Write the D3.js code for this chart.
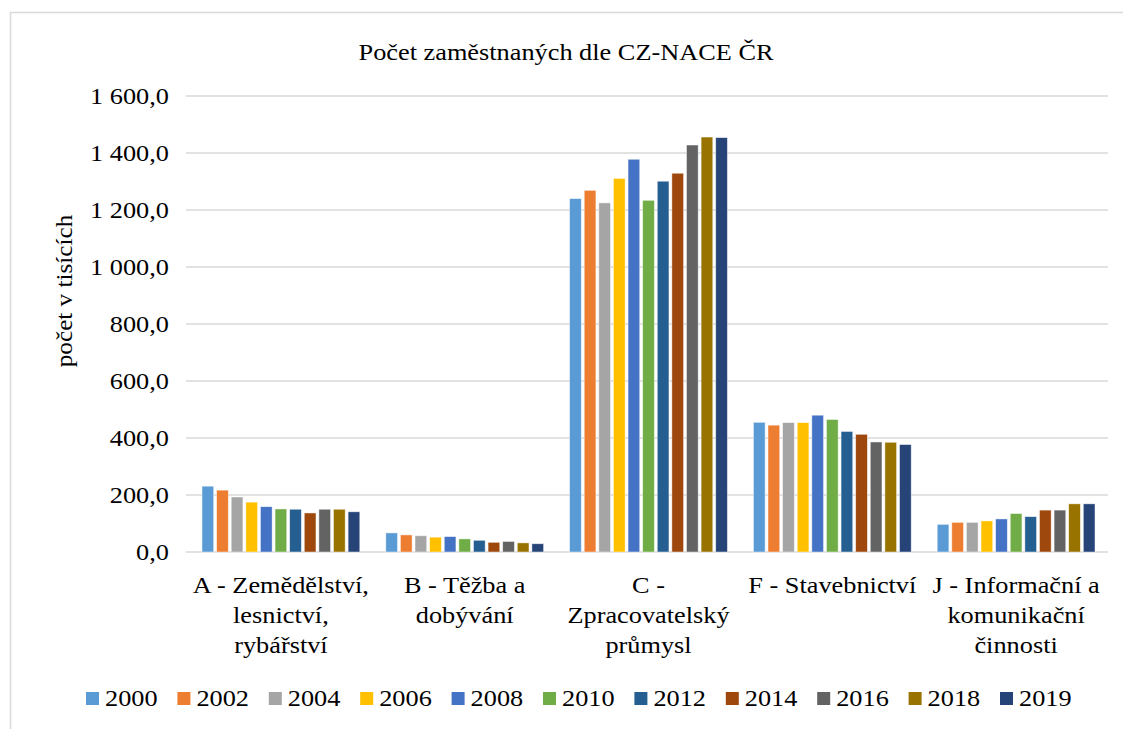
<!DOCTYPE html>
<html>
<head>
<meta charset="utf-8">
<script src="https://cdn.jsdelivr.net/npm/d3@7"></script>
<style>
  body { margin: 0; background: #fff; }
</style>
</head>
<body>
<div id="chart"></div>
<script>
/**
 * DATA (thousands of employed persons)
 * */
const categories = [
  ["A - Zemědělství,", "lesnictví,", "rybářství"],
  ["B - Těžba a", "dobývání"],
  ["C -", "Zpracovatelský", "průmysl"],
  ["F - Stavebnictví"],
  ["J - Informační a", "komunikační", "činnosti"]
];
const years = ["2000", "2002", "2004", "2006", "2008", "2010", "2012", "2014", "2016", "2018", "2019"];
const colors = ["#5B9BD5", "#ED7D31", "#A5A5A5", "#FFC000", "#4472C4", "#70AD47", "#255E91", "#9E480E", "#636363", "#997300", "#264478"];

const valuesA = [231, 217, 193, 175, 159, 151, 150, 137, 150, 150, 141];
const valuesB = [67, 60, 57, 52, 54, 46, 41, 34, 37, 32, 29];
const valuesC = [1240, 1269, 1225, 1311, 1378, 1234, 1301, 1329, 1428, 1456, 1454];
const valuesF = [455, 445, 454, 454, 480, 465, 423, 413, 386, 385, 377];
const valuesJ = [97, 104, 104, 109, 116, 135, 124, 147, 147, 169, 169];
const series = [valuesA, valuesB, valuesC, valuesF, valuesJ];

const yTicks = [0, 200, 400, 600, 800, 1000, 1200, 1400, 1600];

/**
 * CONSTANTS
 * */
const width = 1123, height = 729;
const plot = { left: 189, right: 1108, top: 96, bottom: 552 };
const serif = "Liberation Serif";
const fs = 23.5;        // font size
const stretch = "scale(1.12,1)"; // the source picture is a little wider than tall

const cz = d3.formatLocale({ decimal: ",", thousands: "\u00a0", grouping: [3], currency: ["", " Kč"] });
const fmt = cz.format(",.1f");

const svg = d3.select("#chart")
  .append("svg")
  .attr("width", width)
  .attr("height", height)
  .attr("font-family", serif);

// chart border (Excel chart area)
svg.append("rect")
  .attr("x", 10.5).attr("y", 12.5)
  .attr("width", width).attr("height", height)
  .attr("fill", "#fff")
  .attr("stroke", "#d9d9d9")
  .attr("stroke-width", 1.5);

// scales
const y = d3.scaleLinear().domain([0, 1600]).range([plot.bottom, plot.top]);
const x0 = d3.scaleBand().domain(d3.range(categories.length)).range([plot.left, plot.right]);
const x1 = d3.scaleBand().domain(years).range([0, x0.bandwidth()])
  .paddingInner(0.2).paddingOuter(0.89);

// gridlines
svg.append("g")
  .selectAll("line")
  .data(yTicks)
  .join("line")
  .attr("x1", plot.left - 3).attr("x2", plot.right)
  .attr("y1", d => y(d)).attr("y2", d => y(d))
  .attr("stroke", "#d9d9d9")
  .attr("stroke-width", 1.5);

// y axis labels
const yAxis = svg.append("g")
  .attr("transform", `translate(${plot.left - 20},0)`)
  .call(d3.axisLeft(y).tickValues(yTicks).tickFormat(fmt).tickSize(0).tickPadding(0))
  .attr("font-family", serif)
  .attr("font-size", fs);
yAxis.select(".domain").remove();
yAxis.selectAll("text")
  .attr("fill", "#000")
  .attr("transform", stretch);

// bars
svg.append("g")
  .selectAll("g")
  .data(series)
  .join("g")
  .attr("transform", (d, i) => `translate(${x0(i)},0)`)
  .selectAll("rect")
  .data(d => d.map((v, j) => ({ year: years[j], value: v, color: colors[j] })))
  .join("rect")
  .attr("x", d => x1(d.year))
  .attr("y", d => y(d.value))
  .attr("width", x1.bandwidth())
  .attr("height", d => y(0) - y(d.value))
  .attr("fill", d => d.color)
  .attr("stroke", "#fff")
  .attr("stroke-opacity", 0.6)
  .attr("stroke-width", 0.75);

// category labels
svg.append("g")
  .selectAll("text")
  .data(categories)
  .join("text")
  .attr("text-anchor", "middle")
  .attr("font-size", fs)
  .attr("transform", (d, i) => `translate(${x0(i) + x0.bandwidth() / 2},593) ${stretch}`)
  .selectAll("tspan")
  .data(d => d)
  .join("tspan")
  .attr("x", 0)
  .attr("y", (d, i) => i * 30)
  .text(d => d);

// y axis title
svg.append("text")
  .attr("transform", `translate(72,291) rotate(-90) ${stretch}`)
  .attr("text-anchor", "middle")
  .attr("font-size", fs - 1)
  .text("počet v tisících");

// title
svg.append("text")
  .attr("transform", `translate(566,60) ${stretch}`)
  .attr("text-anchor", "middle")
  .attr("font-size", fs)
  .text("Počet zaměstnaných dle CZ-NACE ČR");

// legend
const legend = svg.append("g")
  .selectAll("g")
  .data(years)
  .join("g")
  .attr("transform", (d, i) => `translate(${86 + i * 91.4},692)`);
legend.append("rect")
  .attr("width", 13).attr("height", 13)
  .attr("fill", (d, i) => colors[i]);
legend.append("text")
  .attr("transform", `translate(19,14) ${stretch}`)
  .attr("font-size", fs)
  .text(d => d);
</script>
</body>
</html>
